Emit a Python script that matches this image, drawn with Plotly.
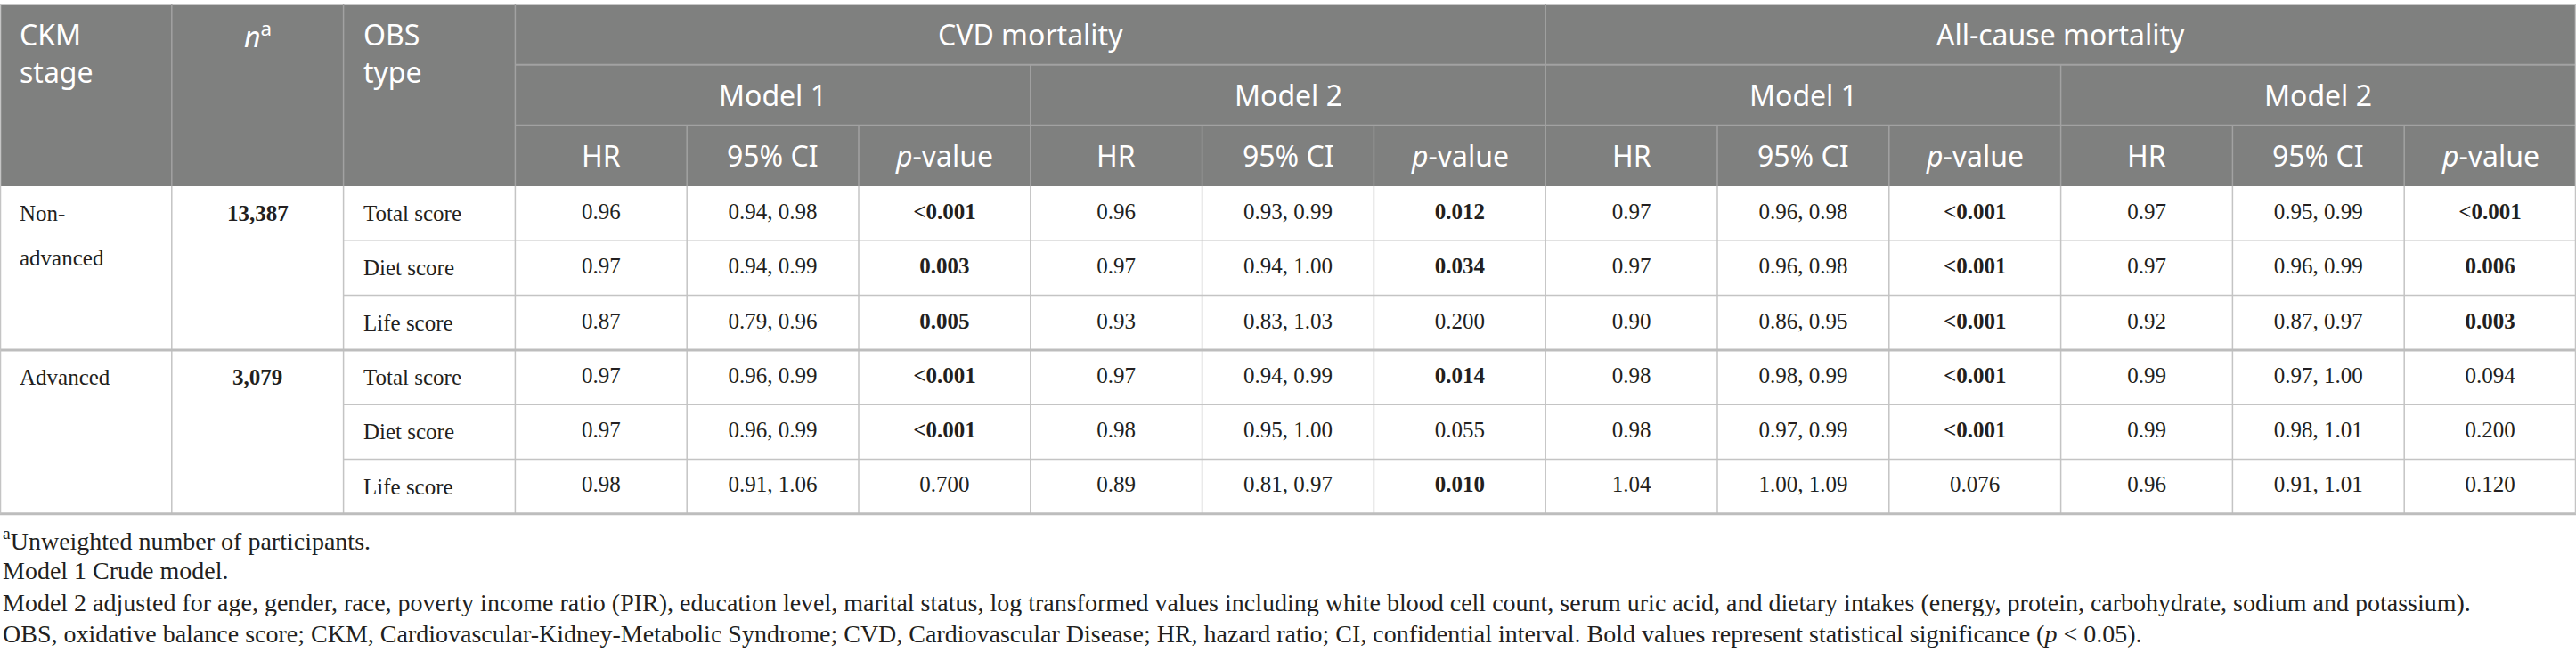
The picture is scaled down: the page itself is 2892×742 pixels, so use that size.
import plotly.graph_objects as go

# ---- table content ----
ckm_stages = ["Non-advanced", "Advanced"]
n_participants = ["13,387", "3,079"]
obs_types = ["Total score", "Diet score", "Life score"]

left_headers = ["CKM stage", "<i>n</i><sup>a</sup>", "OBS type"]
outcomes = ["CVD mortality", "All-cause mortality"]
models = ["Model 1", "Model 2"]
stat_labels = ["HR", "95% CI", "<i>p</i>-value"]

# row order: Non-advanced (total, diet, life), Advanced (total, diet, life)
cvd_m1_hr = ["0.96", "0.97", "0.87", "0.97", "0.97", "0.98"]
cvd_m1_ci = ["0.94, 0.98", "0.94, 0.99", "0.79, 0.96", "0.96, 0.99", "0.96, 0.99", "0.91, 1.06"]
cvd_m1_p = ["<0.001", "0.003", "0.005", "<0.001", "<0.001", "0.700"]

cvd_m2_hr = ["0.96", "0.97", "0.93", "0.97", "0.98", "0.89"]
cvd_m2_ci = ["0.93, 0.99", "0.94, 1.00", "0.83, 1.03", "0.94, 0.99", "0.95, 1.00", "0.81, 0.97"]
cvd_m2_p = ["0.012", "0.034", "0.200", "0.014", "0.055", "0.010"]

all_m1_hr = ["0.97", "0.97", "0.90", "0.98", "0.98", "1.04"]
all_m1_ci = ["0.96, 0.98", "0.96, 0.98", "0.86, 0.95", "0.98, 0.99", "0.97, 0.99", "1.00, 1.09"]
all_m1_p = ["<0.001", "<0.001", "<0.001", "<0.001", "<0.001", "0.076"]

all_m2_hr = ["0.97", "0.97", "0.92", "0.99", "0.99", "0.96"]
all_m2_ci = ["0.95, 0.99", "0.96, 0.99", "0.87, 0.97", "0.97, 1.00", "0.98, 1.01", "0.91, 1.01"]
all_m2_p = ["<0.001", "0.006", "0.003", "0.094", "0.200", "0.120"]

footnotes = [
    "<sup>a</sup>Unweighted number of participants.",
    "Model 1 Crude model.",
    "Model 2 adjusted for age, gender, race, poverty income ratio (PIR), education level, marital status, "
    "log transformed values including white blood cell count, serum uric acid, and dietary intakes "
    "(energy, protein, carbohydrate, sodium and potassium).",
    "OBS, oxidative balance score; CKM, Cardiovascular-Kidney-Metabolic Syndrome; CVD, Cardiovascular Disease; "
    "HR, hazard ratio; CI, confidential interval. Bold values represent statistical significance (<i>p</i> &lt; 0.05).",
]

# ---- geometry / style ----
W, H = 2892, 742
N_COLS = 15
CW = W / N_COLS
HEAD_Y = [5, 72.7, 140.7, 209]
ROW_H = 61.3
BODY_TOP = HEAD_Y[-1]
N_ROWS = len(cvd_m1_hr)
BODY_BOTTOM = BODY_TOP + N_ROWS * ROW_H
PAD = 20

HEAD_BG = "#7f807f"
HEAD_LINE = "#a2a2a2"
BODY_LINE = "#c4c4c4"
TEXT = "#231f20"
SANS = "Noto Sans"
SERIF = "Liberation Serif"
HEAD_SIZE = 32
BODY_SIZE = 25
FOOT_SIZE = 28
FOOT_TOP = 605
FOOT_GAP = 35.5

data_cols = [cvd_m1_hr, cvd_m1_ci, cvd_m1_p, cvd_m2_hr, cvd_m2_ci, cvd_m2_p,
             all_m1_hr, all_m1_ci, all_m1_p, all_m2_hr, all_m2_ci, all_m2_p]


def is_sig(p):
    return float(p.lstrip("<")) < 0.05


def row_mid(r):
    return BODY_TOP + (r + 0.5) * ROW_H


fig = go.Figure()

# numeric cells
xs, ys, texts = [], [], []
for j, col in enumerate(data_cols):
    for r, val in enumerate(col):
        s = val.replace("<", "&lt;")
        if j % 3 == 2 and is_sig(val):
            s = "<b>" + s + "</b>"
        xs.append((3 + j + 0.5) * CW)
        ys.append(row_mid(r))
        texts.append(s)

fig.add_trace(go.Scatter(
    x=xs, y=ys, text=texts, mode="text", textposition="middle center",
    textfont=dict(family=SERIF, size=BODY_SIZE, color=TEXT),
    hoverinfo="skip", showlegend=False,
))

annotations = []


def label(x, y, text, family, size, color, xanchor="center"):
    annotations.append(dict(x=x, y=y, text=text, showarrow=False, xanchor=xanchor, yanchor="middle",
                            font=dict(family=family, size=size, color=color), xref="x", yref="y"))


# header: left columns (text at the top of the merged cell)
head1_mid = (HEAD_Y[0] + HEAD_Y[1]) / 2
for c, h in enumerate(left_headers):
    lines = h.split(" ")
    for k, line in enumerate(lines):
        if c == 1:
            label((c + 0.5) * CW, head1_mid, line, SANS, HEAD_SIZE, "white")
        else:
            label(c * CW + PAD, head1_mid + k * 42, line, SANS, HEAD_SIZE, "white", xanchor="left")

for i, o in enumerate(outcomes):
    label((3 + 6 * i + 3) * CW, head1_mid, o, SANS, HEAD_SIZE, "white")
head2_mid = (HEAD_Y[1] + HEAD_Y[2]) / 2
for i in range(len(outcomes)):
    for m, name in enumerate(models):
        label((3 + 6 * i + 3 * m + 1.5) * CW, head2_mid, name, SANS, HEAD_SIZE, "white")
head3_mid = (HEAD_Y[2] + HEAD_Y[3]) / 2
for b in range(4):
    for s, name in enumerate(stat_labels):
        label((3 + 3 * b + s + 0.5) * CW, head3_mid, name, SANS, HEAD_SIZE, "white")

# body: stage, n, OBS type
per_group = len(obs_types)
for g, stage in enumerate(ckm_stages):
    first = g * per_group
    parts = stage.split("-")
    lines = [p + "-" for p in parts[:-1]] + [parts[-1]]
    for k, line in enumerate(lines):
        label(PAD, row_mid(first) + k * 50, line, SERIF, BODY_SIZE, TEXT, xanchor="left")
    label(1.5 * CW, row_mid(first), "<b>" + n_participants[g] + "</b>", SERIF, BODY_SIZE, TEXT)
    for k, t in enumerate(obs_types):
        label(2 * CW + PAD, row_mid(first + k), t, SERIF, BODY_SIZE, TEXT, xanchor="left")

# footnotes
for i, f in enumerate(footnotes):
    label(1, FOOT_TOP + i * FOOT_GAP, f, SERIF, FOOT_SIZE, TEXT, xanchor="left")

# ---- grid ----
shapes = [dict(type="rect", x0=0, x1=W, y0=HEAD_Y[0], y1=HEAD_Y[-1], fillcolor=HEAD_BG,
               line=dict(width=0), layer="below")]


def seg(x0, y0, x1, y1, color, width):
    shapes.append(dict(type="line", x0=x0, y0=y0, x1=x1, y1=y1, line=dict(color=color, width=width)))


seg(0, HEAD_Y[0], W, HEAD_Y[0], "#c8c8c8", 2)
seg(3 * CW, HEAD_Y[1], W, HEAD_Y[1], HEAD_LINE, 2)
seg(3 * CW, HEAD_Y[2], W, HEAD_Y[2], HEAD_LINE, 2)
for c in range(1, N_COLS):
    if c in (1, 2, 3, 9):
        y0 = HEAD_Y[0]
    elif c in (6, 12):
        y0 = HEAD_Y[1]
    else:
        y0 = HEAD_Y[2]
    seg(c * CW, y0, c * CW, HEAD_Y[3], HEAD_LINE, 1.5)
    seg(c * CW, BODY_TOP, c * CW, BODY_BOTTOM, BODY_LINE, 1.5)

for r in range(1, N_ROWS + 1):
    y = BODY_TOP + r * ROW_H
    if r % per_group == 0:
        seg(0, y, W, y, "#bdbdbd", 3)
    else:
        seg(2 * CW, y, W, y, BODY_LINE, 1.5)
seg(0.5, HEAD_Y[0], 0.5, BODY_BOTTOM, BODY_LINE, 1.5)
seg(W - 0.5, HEAD_Y[0], W - 0.5, BODY_BOTTOM, BODY_LINE, 1.5)

fig.update_layout(
    width=W, height=H,
    margin=dict(l=0, r=0, t=0, b=0),
    paper_bgcolor="white", plot_bgcolor="white",
    xaxis=dict(range=[0, W], visible=False, fixedrange=True),
    yaxis=dict(range=[H, 0], visible=False, fixedrange=True),
    shapes=shapes, annotations=annotations,
)

fig.write_html("out.html", config={"displayModeBar": False},
               post_script="document.body.style.margin='0';")
